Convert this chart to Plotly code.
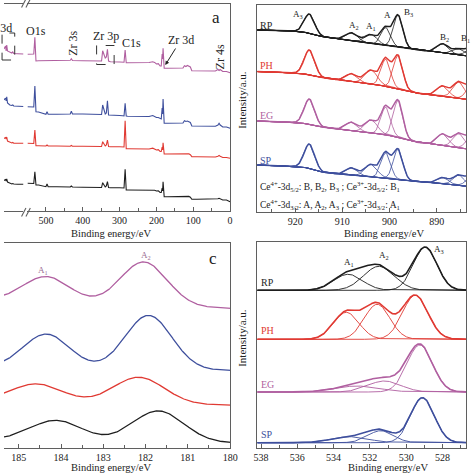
import numpy as np
import plotly.graph_objects as go

W = H = 474
FONT = "Liberation Serif"
AX = "#5f5f5f"
TXT = "#222222"

SAMPLES = ["RP", "PH", "EG", "SP"]
COLORS = {"RP": "#1e1e1e", "PH": "#e03a33", "EG": "#b05fa0", "SP": "#3e4f9d"}

# ---------------- (a) survey spectra, main segment (eV, a.u.) ----------------
survey_e = [550, 536, 533, 530, 527, 520, 500, 497, 494, 470, 440, 434, 431, 428, 400,
            360, 352, 349, 346, 342, 339, 336, 333, 330, 325, 300, 292, 288, 285, 282,
            278, 250, 220, 210, 205, 200, 195, 190, 187, 184.5, 183.3, 182, 179, 170,
            140, 128, 124, 120, 116, 112, 108, 104, 90, 60, 40, 33, 30, 27, 20, 10, 5, 0]
survey_EG = [156.7, 157, 157, 173.7, 150, 150.3, 150.3, 150.8, 150.3, 150.5, 150.5, 150.7,
             152.3, 150.5, 150.3, 150, 150, 150, 160.3, 155, 153, 154, 161.7, 150, 149.3,
             149, 148.8, 148.8, 161, 148.3, 148.3, 148.3, 148.5, 149.3, 148.6, 147, 147.3,
             145, 145, 157, 152, 162.7, 142.7, 142.7, 142.7, 143, 145.3, 144.5, 145.5, 145,
             144, 140.3, 140.3, 140.5, 140, 141.5, 140.5, 141.5, 139.5, 139.5, 139, 138.3]
survey_SP = [104.3, 104, 104, 125, 99.3, 99, 96.7, 99.3, 96.7, 96.7, 96.7, 97, 99.7, 97, 97,
             96.5, 96.5, 96.5, 106, 99, 97, 98, 110.3, 96, 96, 95.5, 95.2, 95, 107.7, 95,
             94.8, 94.5, 94.5, 95.5, 94.5, 93.5, 93.5, 92, 92, 103, 97, 112, 87.7, 87.7,
             87.7, 88, 90.3, 89.5, 90, 89.5, 88.5, 85, 85, 85, 84.8, 86, 87.7, 86, 84, 84,
             83, 82.7]
survey_PH = [67.7, 67.7, 67.5, 81, 65.3, 65.3, 65, 66, 65, 65, 64.8, 64.8, 65.5, 64.8, 64.7,
             64.5, 64.5, 64.5, 69.3, 66, 65, 66, 71, 64.5, 64.3, 64.2, 64, 64, 90.3, 62.3,
             62.3, 62, 62, 62.8, 62, 61, 61.3, 59.5, 59.5, 64, 61, 68.3, 57, 57, 57, 57.3,
             57.7, 57.2, 57.6, 57.2, 56.3, 54.3, 54.3, 54.3, 54, 54.8, 55.6, 54.8, 53.5,
             53.5, 53, 52.7]
survey_RP = [27.7, 27.5, 27.5, 39.3, 26, 26, 24.3, 27, 24.3, 24.2, 24, 24, 25, 24, 23.8,
             23.5, 23.5, 23.5, 28.3, 25, 24, 25, 29.3, 23.5, 23.2, 23.3, 23, 23, 41.7, 21,
             21, 21, 20.8, 21.5, 20.8, 20, 20.2, 18.5, 18.5, 23, 20, 29.3, 14.3, 14.3, 14.3,
             14.5, 15, 14.6, 15, 14.6, 13.8, 11.7, 11.7, 11.7, 11.5, 12.2, 12.7, 12.2, 11,
             11, 10.5, 9.3]
# (a) survey, Ce 3d segment left of the axis break
ce_seg_e = [905, 901, 899.5, 898, 896, 890, 885, 882.5, 880, 870, 855]
ce_seg_EG = [162, 165, 160, 166, 160, 158.5, 158, 159, 157.5, 157.3, 157]
ce_seg_SP = [111, 113, 110, 114.3, 108, 106, 105.5, 106, 105, 104.8, 104.5]
ce_seg_PH = [72.5, 73.5, 72, 74, 70, 68.5, 68, 68.5, 67.8, 67.8, 67.7]
ce_seg_RP = [30.5, 31.5, 30, 32, 29, 27.5, 27, 27.5, 27, 26.8, 26.7]
survey_tick_labels = ["500", "400", "300", "200", "100", "0"]

# ---------------- (b) Ce 3d fitted spectra ----------------
ce_peaks = ["A3", "A2", "A1", "A", "B3", "B2", "B1", "B"]
ce_centers = [917.0, 908.0, 903.9, 900.8, 898.2, 888.7, 885.3, 882.5]
ce_sigma = [1.1, 1.25, 1.3, 1.0, 1.0, 1.2, 1.2, 1.2]
ce_h_RP = [19, 8, 9, 18, 32, 9, 6, 8]
ce_h_PH = [24.5, 8, 14, 27, 33, 10, 16, 14]
ce_h_EG = [25, 8.5, 13, 27.5, 36.5, 11.5, 14, 13]
ce_h_SP = [24, 7.5, 12.5, 25, 30, 6, 10, 10]
ce_bg_e = [928, 920, 917, 914, 910, 905, 901, 899, 897, 894, 890, 885, 883.5]
ce_bg_RP = [182, 181, 179, 175, 172.5, 169.2, 166.5, 165.2, 163.8, 162, 160, 157, 156]
ce_bg_PH = [140.5, 139, 137.5, 134, 131.5, 128.5, 126, 124, 122, 118.7, 117, 113.5, 112.5]
ce_bg_EG = [91, 89.5, 88, 84.5, 82.5, 79.5, 77.5, 75.5, 73.5, 69.5, 67.5, 64, 63]
ce_bg_SP = [47, 45.5, 44, 39.5, 37.5, 35.5, 34, 33, 31.8, 30.3, 29, 26.5, 25.5]

# ---------------- (c) Zr 3d ----------------
zr_c_EG = [184.35, 182.04]; zr_h_EG = [25, 43.3]; zr_s_EG = 0.55; zr_bg_EG = [148, 139.5]
zr_c_SP = [184.35, 181.93]; zr_h_SP = [34, 54]; zr_s_SP = 0.55; zr_bg_SP = [80.5, 77.5]
zr_c_PH = [184.58, 182.16]; zr_h_PH = [17.8, 26.3]; zr_s_PH = 0.6; zr_bg_PH = [47, 42.7]
zr_c_RP = [184.12, 181.70]; zr_h_RP = [20, 31]; zr_s_RP = 0.6; zr_bg_RP = [8.5, 5]

# ---------------- (d) O 1s ----------------
o_c_RP = [533.2, 531.5, 528.95]; o_h_RP = [16, 24, 43]; o_s_RP = [0.8, 0.85, 0.65]; o_base_RP = 157.7
o_c_PH = [533.3, 531.6, 529.5]; o_h_PH = [27, 35, 44]; o_s_PH = [0.7, 0.7, 0.7]; o_base_PH = 108.7
o_c_EG = [532.7, 531.2, 529.25]; o_h_EG = [6, 11, 47]; o_s_EG = [1.2, 0.9, 0.7]; o_base_EG = 56
o_c_SP = [533.1, 531.4, 529.1]; o_h_SP = [6, 12, 45]; o_s_SP = [1.0, 0.7, 0.65]; o_base_SP = 5.3

survey = {"RP": survey_RP, "PH": survey_PH, "EG": survey_EG, "SP": survey_SP}
ce_seg = {"RP": ce_seg_RP, "PH": ce_seg_PH, "EG": ce_seg_EG, "SP": ce_seg_SP}
ce_h = {"RP": ce_h_RP, "PH": ce_h_PH, "EG": ce_h_EG, "SP": ce_h_SP}
ce_bg = {"RP": ce_bg_RP, "PH": ce_bg_PH, "EG": ce_bg_EG, "SP": ce_bg_SP}
zr = {"RP": (zr_c_RP, zr_h_RP, zr_s_RP, zr_bg_RP), "PH": (zr_c_PH, zr_h_PH, zr_s_PH, zr_bg_PH),
      "EG": (zr_c_EG, zr_h_EG, zr_s_EG, zr_bg_EG), "SP": (zr_c_SP, zr_h_SP, zr_s_SP, zr_bg_SP)}
o1s = {"RP": (o_c_RP, o_h_RP, o_s_RP, o_base_RP), "PH": (o_c_PH, o_h_PH, o_s_PH, o_base_PH),
       "EG": (o_c_EG, o_h_EG, o_s_EG, o_base_EG), "SP": (o_c_SP, o_h_SP, o_s_SP, o_base_SP)}


def gauss(x, c, h, s):
    return h * np.exp(-((x - c) ** 2) / (2 * s * s))


def px(v):
    return v / W


def py(v):
    return 1 - v / H


fig = go.Figure()


def line(x, y, xa, ya, color, width):
    fig.add_trace(go.Scatter(x=x, y=y, mode="lines", xaxis=xa, yaxis=ya,
                             line=dict(color=color, width=width), hoverinfo="skip"))


# (a)
for s in SAMPLES:
    line(survey_e, survey[s], "x", "y", COLORS[s], 1.1)
    line(ce_seg_e, ce_seg[s], "x5", "y", COLORS[s], 1.1)

# (b)
xb = np.linspace(883.4, 928.2, 700)
for s in SAMPLES:
    bg = np.interp(xb, ce_bg_e[::-1], ce_bg[s][::-1])
    total = bg.copy()
    for c, h, sg in zip(ce_centers, ce_h[s], ce_sigma):
        g = gauss(xb, c, h, sg)
        total += g
        line(xb, bg + g, "x2", "y2", COLORS[s], 0.8)
    line(xb, bg, "x2", "y2", COLORS[s], 1.0)
    line(xb, total, "x2", "y2", COLORS[s], 1.5)

# (c)
xc = np.linspace(179.9, 185.5, 400)
for s in SAMPLES:
    cs, hs, sg, (bl, br) = zr[s]
    bg = br + (bl - br) * (xc - 180) / 5.35
    y = bg + sum(gauss(xc, c, h, sg) for c, h in zip(cs, hs))
    line(xc, y, "x3", "y3", COLORS[s], 1.3)

# (d)
xd = np.linspace(526.6, 538.3, 500)
for s in SAMPLES:
    cs, hs, sgs, base = o1s[s]
    total = np.full_like(xd, base)
    for c, h, sg in zip(cs, hs, sgs):
        g = gauss(xd, c, h, sg)
        total = total + g
        line(xd, base + g, "x4", "y4", COLORS[s], 0.9)
    line(xd, total, "x4", "y4", COLORS[s], 1.6)


def xaxis(domain, rng, anchor, tickvals, ticktext, minor, mirror=True, labels=True):
    return dict(domain=domain, range=rng, anchor=anchor, tickmode="array", tickvals=tickvals,
                ticktext=ticktext, ticks="inside", ticklen=4, tickwidth=1, tickcolor=AX,
                showline=True, linecolor=AX, linewidth=1.2, mirror=mirror, showgrid=False,
                zeroline=False, showticklabels=labels,
                tickfont=dict(family=FONT, size=10, color=TXT),
                minor=dict(ticks="inside", ticklen=2.5, tickcolor=AX, dtick=minor, tick0=0,
                           showgrid=False))


def yaxis(domain, rng, anchor, side="left", mirror=True):
    return dict(domain=domain, range=rng, anchor=anchor, side=side, showline=True,
                linecolor=AX, linewidth=1.2, mirror=mirror, ticks="", showticklabels=False,
                showgrid=False, zeroline=False)


fig.update_layout(
    width=W, height=H, margin=dict(l=0, r=0, t=0, b=0), showlegend=False,
    paper_bgcolor="white", plot_bgcolor="white",
    font=dict(family=FONT, size=10, color=TXT),
    xaxis=xaxis([px(24), px(232)], [550.3, 0], "y", [500, 400, 300, 200, 100, 0],
                survey_tick_labels, 50),
    xaxis5=dict(domain=[0, px(20)], range=[905, 855], anchor="y", showline=True,
                linecolor=AX, linewidth=1.2, mirror=True, ticks="", showticklabels=False,
                showgrid=False, zeroline=False),
    yaxis=yaxis([py(211), py(4)], [0, 207], "x", side="right", mirror=False),
    xaxis2=xaxis([px(260), 1], [928.0, 883.8], "y2", [920, 910, 900, 890],
                 ["920", "910", "900", "890"], 5),
    yaxis2=yaxis([py(212), py(5)], [0, 207], "x2"),
    xaxis3=xaxis([0, px(232)], [185.35, 180], "y3", [185, 184, 183, 182, 181, 180],
                 ["185", "184", "183", "182", "181", "180"], 0.5),
    yaxis3=yaxis([py(448), py(243)], [0, 205], "x3", side="right", mirror=False),
    xaxis4=xaxis([px(260), 1], [538.2, 526.7], "y4", [538, 536, 534, 532, 530, 528],
                 ["538", "536", "534", "532", "530", "528"], 1),
    yaxis4=yaxis([py(448), py(242)], [0, 206], "x4"),
)

ann = []


def text(x, y, t, size=12, color=TXT, angle=0, xanchor="center", **kw):
    ann.append(dict(x=px(x), y=py(y), xref="paper", yref="paper", text=t, showarrow=False,
                    font=dict(family=FONT, size=size, color=color), textangle=angle,
                    xanchor=xanchor, yanchor="middle", **kw))


# axis titles
for cx, cy in [(110, 233), (390, 233), (110, 467), (394, 467)]:
    text(cx, cy, "Binding energy/eV", size=10.5)
for cy in [100, 338]:
    text(244, cy, "Intensity/a.u.", size=11, angle=-90)

# (a) labels
text(10.5, 28, "Ce 3d", xanchor="right")
text(33, 31, "O1s")
text(70.5, 43, "Zr 3s", angle=-90)
text(105, 36, "Zr 3p")
text(131, 43, "C1s")
text(222, 57, "Zr 4s", angle=-90)
text(217, 18, "a", size=17)
ann.append(dict(x=px(165.5), y=py(65), xref="paper", yref="paper", ax=15.5, ay=-25,
                axref="pixel", ayref="pixel", text="Zr 3d", showarrow=True, arrowhead=2,
                arrowsize=0.8, arrowwidth=1, arrowcolor=TXT, standoff=0,
                font=dict(family=FONT, size=12, color=TXT)))

# (b) labels
for s, cy in zip(SAMPLES, [25, 65, 115, 160]):
    text(269, cy, s, size=10, color=COLORS[s])
for t, cx, cy in [("A<sub>3</sub>", 302, 15), ("A<sub>2</sub>", 359, 25), ("A<sub>1</sub>", 377, 27),
                  ("A", 393, 15), ("B<sub>3</sub>", 415, 12), ("B<sub>2</sub>", 452, 37)]:
    text(cx, cy, t, size=9)
text(467, 38, "B<sub>1</sub>", size=9, xanchor="left")
text(261, 187, "Ce<sup>4+</sup>-3d<sub>5/2</sub>: B, B<sub>2</sub>, B<sub>3</sub> ; "
     "Ce<sup>3+</sup>-3d<sub>5/2</sub>: B<sub>1</sub>", size=9.5, xanchor="left")
text(261, 205, "Ce<sup>4+</sup>-3d<sub>3/2</sub>: A, A<sub>2</sub>, A<sub>3</sub> ; "
     "Ce<sup>3+</sup>-3d<sub>3/2</sub>: A<sub>1</sub>", size=9.5, xanchor="left")

# (c) labels
text(40, 270, "A<sub>1</sub>", size=9, color="#9a6d92")
text(146, 255, "A<sub>2</sub>", size=9, color="#9a6d92")
text(214, 258, "c", size=17)

# (d) labels
for s, cy in zip(SAMPLES, [282, 330, 384, 434]):
    text(270, cy, s, size=10, color=COLORS[s])
for t, cx, cy in [("A<sub>1</sub>", 354, 262), ("A<sub>2</sub>", 390, 255), ("A<sub>3</sub>", 446, 249)]:
    text(cx, cy, t, size=9)

fig.update_layout(annotations=ann)

shapes = []
# dashed boxes
for x0, y0, x1, y1 in [(95, 45.5, 113, 64.5), (-2, 33, 11, 60)]:
    shapes.append(dict(type="rect", xref="paper", yref="paper", x0=px(x0), x1=px(x1),
                       y0=py(y1), y1=py(y0), line=dict(color="#333", width=1, dash="dash")))
# axis break marks
for (yb, yt) in [(216.5, 208), (7.5, -1)]:
    for dx in (0, 4.5):
        shapes.append(dict(type="line", xref="paper", yref="paper",
                           x0=px(18 + dx), y0=py(yb), x1=px(22.5 + dx), y1=py(yt),
                           line=dict(color=AX, width=1.1)))
fig.update_layout(shapes=shapes)

fig.write_html("out.html", config={"displayModeBar": False},
               post_script="document.body.style.margin='0';document.body.style.overflow='hidden';")
